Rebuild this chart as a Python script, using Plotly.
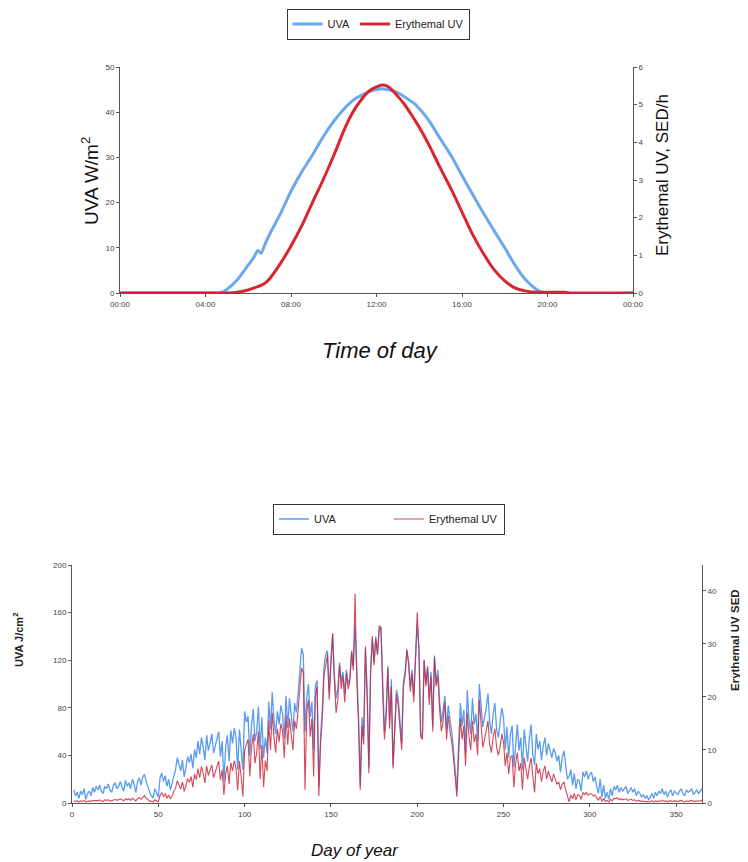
import plotly.graph_objects as go

# ---------------- Top chart: diurnal profile ----------------
hours = [0, 4.0, 4.5, 4.75, 5.0, 5.5, 6.0, 6.25, 6.45, 6.6, 6.8, 7.0, 7.5, 8.0, 8.5,
         9.0, 9.5, 10.0, 10.5, 10.75, 11.0, 11.25, 11.5, 11.75, 12.0, 12.25, 12.5, 12.75,
         13.0, 13.25, 13.5, 13.75, 14.0, 14.25, 14.5,
         15.0, 15.5, 16.0, 16.5, 17.0, 17.5, 18.0, 18.5, 19.0, 19.5, 19.75, 20.0,
         20.5, 20.8, 21.0, 24.0]
uva_wm2 = [0, 0, 0, 0.1, 0.8, 3.0, 6.2, 7.8, 9.4, 8.8, 11.0, 13.0, 17.5, 22.5, 26.8,
           30.5, 34.5, 38.0, 40.8, 42.0, 43.0, 43.6, 44.2, 44.7, 45.0, 45.2, 45.0, 44.7,
           44.3, 43.6, 42.8, 42.0, 40.8, 39.4, 37.8,
           34.0, 30.3, 26.0, 21.8, 17.7, 13.8, 10.0, 6.0, 2.8, 0.7, 0.1, 0,
           0, 0, 0, 0]
ery_sedh = [0, 0, 0, 0, 0, 0.02, 0.08, 0.13, 0.17, 0.2, 0.27, 0.38, 0.78, 1.25, 1.78,
            2.4, 3.0, 3.65, 4.35, 4.65, 4.9, 5.1, 5.28, 5.4, 5.47, 5.52, 5.49, 5.38,
            5.22, 5.05, 4.85, 4.63, 4.4, 4.15, 3.88,
            3.3, 2.75, 2.15, 1.55, 1.05, 0.62, 0.32, 0.13, 0.05, 0.02, 0.02, 0.02,
            0.02, 0.02, 0, 0]
time_tickvals = [0, 4, 8, 12, 16, 20, 24]
time_ticktext = ["00:00", "04:00", "08:00", "12:00", "16:00", "20:00", "00:00"]

# ---------------- Bottom chart: daily doses ----------------
uva_daily = [
    11, 6, 9, 4, 10, 7, 12, 3, 8, 10,
    6, 13, 9, 14, 11, 15, 10, 8, 14, 12,
    16, 11, 9, 15, 17, 12, 14, 18, 13, 10,
    19, 14, 17, 12, 20, 16, 9, 18, 21, 15,
    22, 24, 18, 13, 9, 6, 4, 12, 8, 5,
    21, 25, 18, 23, 14, 20, 11, 17, 24, 28,
    38, 33, 27, 36, 22, 30, 39, 34, 41, 29,
    45, 38, 52, 41, 55, 47, 36, 57, 44, 50,
    58, 42, 48, 55, 60, 39, 52, 18, 46, 57,
    35, 61, 50, 63, 55, 28, 62, 45, 28, 77,
    68, 73, 40, 66, 79, 52, 60, 81, 45, 72,
    38, 55, 42, 85, 62, 93, 70, 58, 77, 66,
    82, 75, 54, 90, 63, 88, 72, 60, 84, 76,
    92, 115, 130, 125, 60, 88, 100, 72, 85, 45,
    98, 103, 14, 55, 78, 115, 125, 128, 94, 120,
    142, 108, 88, 96, 118, 102, 110, 92, 112, 100,
    105, 128, 115, 150, 110, 74, 15, 72, 56, 130,
    95, 30, 112, 138, 118, 140, 125, 145, 148, 100,
    60, 78, 115, 70, 104, 32, 65, 95, 88, 72,
    50, 102, 110, 128, 118, 98, 112, 90, 125, 150,
    130, 58, 55, 120, 100, 115, 88, 110, 65, 124,
    100, 112, 85, 68, 78, 90, 62, 82, 70, 60,
    45, 25, 10, 50, 84, 65, 78, 42, 95, 70,
    58, 88, 66, 75, 52, 100, 82, 64, 72, 80,
    92, 68, 58, 75, 84, 62, 55, 66, 80, 72,
    45, 64, 38, 58, 65, 30, 52, 66, 44, 55,
    28, 62, 48, 35, 55, 66, 40, 32, 58, 45,
    52, 36, 48, 55, 40, 50, 44, 38, 46, 42,
    35, 40, 26, 38, 44, 30, 20, 22, 28, 15,
    25, 12, 20, 18, 10, 26, 22, 27, 20, 24,
    26, 18, 22, 14, 8, 20, 5, 15, 4, 9,
    3, 12, 6, 14, 11, 15, 9, 13, 10, 12,
    14, 8, 11, 13, 9, 12, 6, 10, 8, 5,
    7, 4, 6, 3, 5, 8, 4, 9, 6, 10,
    8, 12, 7, 10, 5, 9, 11, 6, 10, 8,
    7, 10, 12, 8, 6, 11, 9, 10, 12, 7,
    9, 11, 8, 10, 12,
]
sed_daily = [
    0.4, 0.3, 0.4, 0.2, 0.4, 0.3, 0.5, 0.2, 0.3, 0.4,
    0.3, 0.5, 0.4, 0.5, 0.4, 0.6, 0.4, 0.3, 0.6, 0.5,
    0.6, 0.4, 0.4, 0.6, 0.7, 0.5, 0.6, 0.8, 0.6, 0.4,
    0.8, 0.6, 0.8, 0.5, 0.9, 0.7, 0.4, 0.8, 1.0, 0.7,
    1.1, 1.4, 0.9, 0.6, 0.4, 0.3, 0.2, 0.6, 0.4, 0.2,
    1.4, 2.0, 1.2, 1.8, 0.9, 1.5, 0.8, 1.3, 2.2, 2.8,
    4.2, 3.5, 2.6, 4.0, 2.2, 3.3, 4.6, 3.9, 5.0, 3.0,
    5.5, 4.4, 6.5, 4.8, 6.9, 5.6, 3.8, 7.0, 5.2, 6.2,
    7.2, 4.8, 5.8, 6.8, 7.9, 4.3, 6.3, 1.5, 5.4, 7.0,
    3.6, 7.6, 6.0, 8.0, 6.6, 2.4, 7.9, 5.0, 1.2, 10.0,
    11.0, 12.0, 5.0, 10.5, 13.0, 7.5, 9.5, 13.5, 4.5, 11.0,
    3.0, 8.0, 6.0, 15.5, 10.0, 17.0, 12.5, 9.5, 14.0, 11.5,
    15.0, 13.5, 8.5, 16.5, 11.0, 16.0, 13.0, 10.0, 15.5, 14.0,
    17.5, 22.0, 25.5, 24.5, 2.5, 17.0, 19.5, 12.5, 16.0, 5.0,
    20.0, 22.0, 1.3, 11.0, 16.0, 24.0, 26.5, 28.0, 19.5, 25.5,
    32.0, 23.0, 17.0, 19.5, 26.0, 21.5, 24.0, 19.0, 24.5, 21.5,
    23.0, 28.5, 25.0, 39.5, 23.0, 15.0, 2.5, 14.5, 11.0, 29.5,
    20.0, 5.6, 24.5, 31.5, 26.0, 31.0, 28.0, 33.5, 33.0, 21.0,
    12.0, 16.0, 25.5, 14.0, 22.0, 6.5, 13.0, 20.5, 18.5, 14.5,
    10.0, 22.0, 24.0, 29.0, 26.5, 21.0, 24.5, 19.0, 28.0, 36.0,
    29.0, 12.5, 12.0, 27.0, 22.0, 25.5, 18.5, 24.0, 13.5, 27.5,
    22.0, 24.0, 17.5, 13.5, 15.5, 19.0, 12.0, 16.5, 13.5, 11.5,
    8.5, 4.0, 1.2, 9.0, 16.0, 12.0, 14.5, 7.0, 17.0, 12.5,
    10.0, 15.5, 11.5, 13.0, 9.0, 19.5, 14.0, 10.5, 12.0, 13.5,
    15.5, 11.0, 9.5, 12.5, 14.0, 10.5, 9.0, 10.5, 13.0, 11.5,
    7.0, 9.5, 5.5, 8.5, 9.0, 3.0, 7.5, 9.5, 6.0, 7.5,
    2.5, 8.5, 6.5, 4.5, 7.0, 8.5, 5.0, 2.0, 7.5, 5.5,
    6.5, 4.0, 6.0, 7.0, 4.5, 6.0, 5.0, 4.0, 5.5, 4.5,
    3.5, 4.0, 2.5, 3.5, 4.0, 2.5, 1.5, 0.2, 1.5, 0.8,
    1.8, 0.6, 1.6, 1.4, 0.7, 2.0, 1.6, 2.0, 1.5, 1.7,
    1.7, 1.3, 1.5, 0.9, 0.5, 1.2, 0.3, 0.9, 0.3, 0.5,
    0.2, 0.7, 0.4, 0.9, 0.8, 1.0, 0.6, 0.8, 0.6, 0.7,
    0.8, 0.5, 0.6, 0.7, 0.5, 0.6, 0.3, 0.5, 0.4, 0.3,
    0.4, 0.2, 0.3, 0.2, 0.3, 0.4, 0.2, 0.4, 0.3, 0.4,
    0.3, 0.5, 0.3, 0.4, 0.2, 0.4, 0.4, 0.3, 0.4, 0.3,
    0.3, 0.4, 0.5, 0.3, 0.2, 0.4, 0.3, 0.4, 0.5, 0.3,
    0.3, 0.4, 0.3, 0.4, 0.5,
]
days = list(range(1, len(uva_daily) + 1))

# The page body adds an 8 px margin, so the figure is drawn 8 px smaller
OFF = 8
W, H = 748 - OFF, 862 - OFF
def px(x):
    return (x - OFF) / W
def py(y):
    return 1 - (y - OFF) / H

BLUE = "#6aa9ef"
RED = "#d8262e"
BLUE2 = "#5a9bef"
RED2 = "rgba(205,40,60,0.85)"
TICKFONT = dict(family="Liberation Sans Narrow, Liberation Sans, Arial", size=8, color="#444")
AX = "#555"

fig = go.Figure()
fig.add_trace(go.Scatter(x=hours, y=uva_wm2, name="UVA", mode="lines",
                         line=dict(color=BLUE, width=3, shape="spline", smoothing=0.8),
                         xaxis="x", yaxis="y", legend="legend"))
fig.add_trace(go.Scatter(x=hours, y=ery_sedh, name="Erythemal UV", mode="lines",
                         line=dict(color=RED, width=3, shape="spline", smoothing=0.8),
                         xaxis="x", yaxis="y2", legend="legend"))
fig.add_trace(go.Scatter(x=days, y=uva_daily, name="UVA", mode="lines",
                         line=dict(color=BLUE2, width=1.3),
                         xaxis="x2", yaxis="y3", legend="legend2"))
fig.add_trace(go.Scatter(x=days, y=sed_daily, name="Erythemal UV", mode="lines",
                         line=dict(color=RED2, width=1.1),
                         xaxis="x2", yaxis="y4", legend="legend2"))

common = dict(showgrid=False, zeroline=False, showline=True, linecolor=AX, linewidth=1,
              ticks="outside", ticklen=3, tickcolor=AX, tickfont=TICKFONT, automargin=False)

LEGFONT = dict(family="Liberation Sans Narrow, Liberation Sans, Arial", size=11, color="#222")

def note(text, x, y, size, angle=0, color="#111"):
    return dict(text=text, x=px(x), y=py(y), xref="paper", yref="paper",
                xanchor="center", yanchor="middle", textangle=angle, showarrow=False,
                font=dict(family="Liberation Sans, Arial", size=size, color=color))

fig.update_layout(
    width=W, height=H,
    margin=dict(l=0, r=0, t=0, b=0, autoexpand=False),
    paper_bgcolor="white", plot_bgcolor="white",
    showlegend=True,
    xaxis=dict(domain=[px(120), px(633)], range=[0, 24], tickvals=time_tickvals,
               ticktext=time_ticktext, anchor="y", **common),
    yaxis=dict(domain=[py(293), py(67)], range=[0, 50], dtick=10, anchor="x", **common),
    yaxis2=dict(range=[0, 6], dtick=1, overlaying="y", side="right", anchor="x", **common),
    xaxis2=dict(domain=[px(72), px(702)], range=[0, 365], dtick=50, anchor="y3", **common),
    yaxis3=dict(domain=[py(803), py(565)], range=[0, 200], dtick=40, anchor="x2", **common),
    yaxis4=dict(range=[0, 44.9], dtick=10, overlaying="y3", side="right", anchor="x2", **common),
    legend=dict(orientation="h", x=px(378), y=py(24), xanchor="center", yanchor="middle",
                bordercolor="#333", borderwidth=1, bgcolor="white", font=LEGFONT,
                itemwidth=30),
    legend2=dict(orientation="h", x=px(389), y=py(519), xanchor="center", yanchor="middle",
                 bordercolor="#333", borderwidth=1, bgcolor="white", font=LEGFONT,
                 itemwidth=30, entrywidth=70),
    annotations=[
        note("UVA W/m<sup>2</sup>", 90, 181, 19, -90),
        note("Erythemal UV, SED/h", 662, 175, 17, -90),
        note("<i>Time of day</i>", 380, 350, 22),
        note("<b>UVA J/cm<sup>2</sup></b>", 18, 640, 11, -90, "#222"),
        note("<b>Erythemal UV SED</b>", 735, 640, 11.5, -90, "#222"),
        note("<i>Day of year</i>", 355, 850, 17),
    ],
)

fig.write_html("out.html")
